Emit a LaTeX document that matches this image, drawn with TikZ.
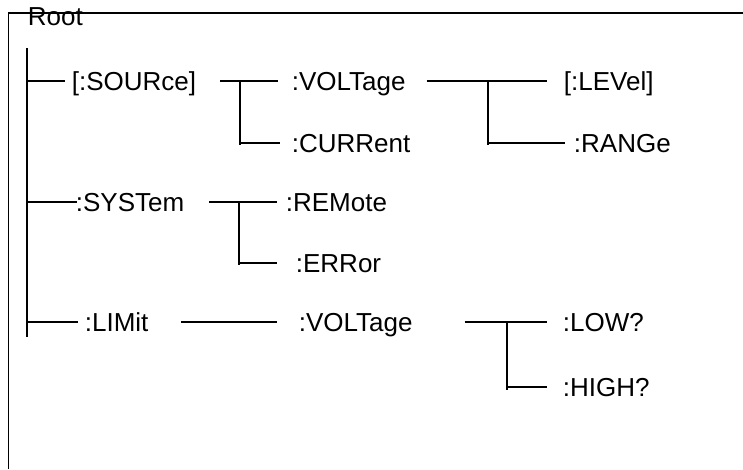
\documentclass[tikz,border=0pt]{standalone}
\usepackage{fontspec}
\setmainfont{Liberation Sans}
\usetikzlibrary{calc}
\begin{document}
\begin{tikzpicture}[x=1pt,y=-1pt,line width=1.8pt,
  lbl/.style={anchor=west, inner sep=0pt, text height=18.6pt, text depth=0pt,
              font=\fontsize{26}{30}\selectfont}]
\useasboundingbox (0,0) rectangle (743,469);
% frame
\draw (743,13) -- (8.5,13) -- (8.5,469);
\node[lbl] (root) at (27,16) {Root};
% nodes
\node[lbl] (src)   at (71,81)   {[:SOURce]};
\node[lbl] (volt)  at (291,81)  {:VOLTage};
\node[lbl] (curr)  at (291,143) {:CURRent};
\node[lbl] (lev)   at (563,81)  {[:LEVel]};
\node[lbl] (rng)   at (573,143) {:RANGe};
\node[lbl] (sys)   at (75,202)  {:SYSTem};
\node[lbl] (rem)   at (285,202) {:REMote};
\node[lbl] (err)   at (295,263) {:ERRor};
\node[lbl] (lim)   at (84,322)  {:LIMit};
\node[lbl] (lvolt) at (298,322) {:VOLTage};
\node[lbl] (low)   at (562,322) {:LOW?};
\node[lbl] (high)  at (562,387) {:HIGH?};
% trunk
\coordinate (ttop) at (27,48);
\coordinate (tbot) at (27,337);
\draw (ttop) -- (tbot);
\draw (ttop |- src.west) -- ([xshift=-6pt]src.west);
\draw (ttop |- sys.west) -- ([xshift=2pt]sys.west);
\draw (ttop |- lim.west) -- ([xshift=-6pt]lim.west);
% SOURce branch
\coordinate (j1) at (240,81);
\draw ([xshift=23pt]src.east) -- ([xshift=-13pt]volt.west);
\draw (j1) -- ($(j1 |- curr.west)+(0,2)$);
\draw (j1 |- curr.west) -- ([xshift=-11pt]curr.west);
% VOLTage branch
\coordinate (j2) at (488,81);
\draw ([xshift=20pt]volt.east) -- ([xshift=-16pt]lev.west);
\draw (j2) -- ($(j2 |- rng.west)+(0,2)$);
\draw (j2 |- rng.west) -- ([xshift=-8pt]rng.west);
% SYSTem branch
\coordinate (j3) at (239,202);
\draw ([xshift=24pt]sys.east) -- ([xshift=-8pt]rem.west);
\draw (j3) -- ($(j3 |- err.west)+(0,2)$);
\draw (j3 |- err.west) -- ([xshift=-18pt]err.west);
% LIMit branch
\draw ([xshift=32pt]lim.east) -- ([xshift=-21pt]lvolt.west);
\coordinate (j4) at (507,322);
\draw ([xshift=51pt]lvolt.east) -- ([xshift=-15pt]low.west);
\draw (j4) -- ($(j4 |- high.west)+(0,3)$);
\draw (j4 |- high.west) -- ([xshift=-15pt]high.west);
\end{tikzpicture}
\end{document}
